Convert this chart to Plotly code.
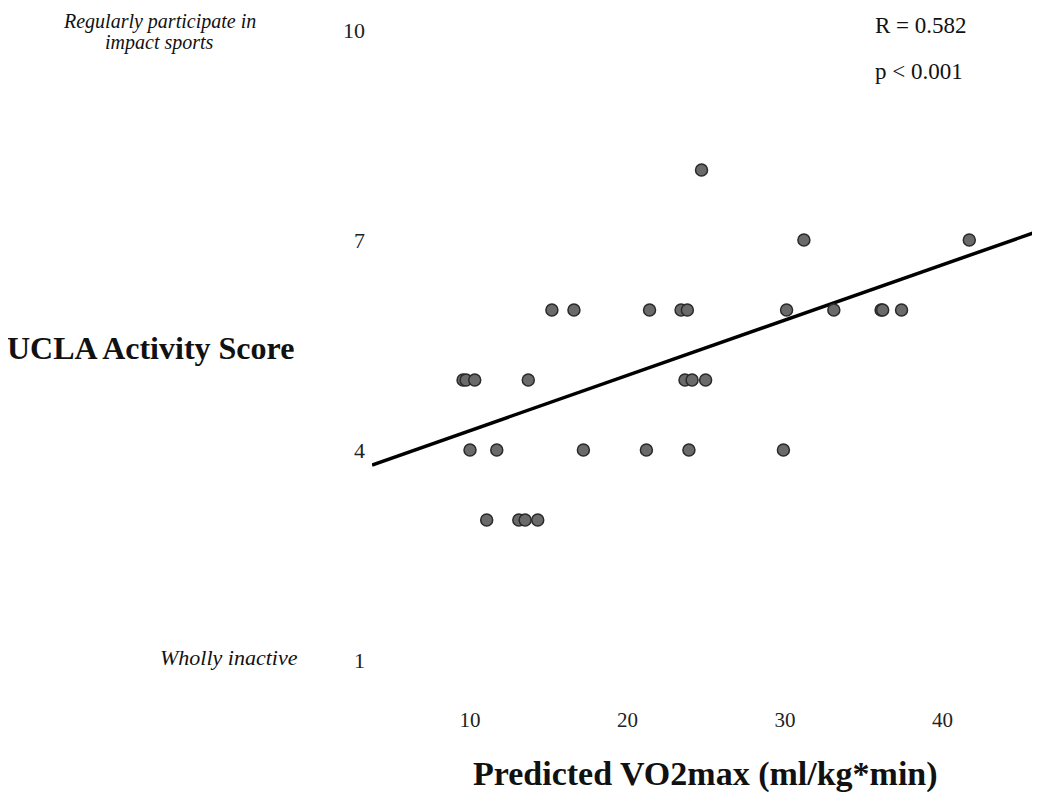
import plotly.graph_objects as go

# ---- data ----
vo2max = [11.06, 13.1, 13.5, 14.3,
          10.0, 11.7, 17.2, 21.2, 23.9, 29.9,
          9.56, 9.75, 10.3, 13.7, 23.65, 24.1, 24.96,
          15.2, 16.6, 21.4, 23.4, 23.8, 30.1, 33.1, 36.1, 36.2, 37.4,
          31.2, 41.7,
          24.7]
ucla = [3, 3, 3, 3,
        4, 4, 4, 4, 4, 4,
        5, 5, 5, 5, 5, 5, 5,
        6, 6, 6, 6, 6, 6, 6, 6, 6, 6,
        7, 7,
        8]
fit_x = [3.78, 45.75]
fit_y = [3.786, 7.10]
x_ticks = [10, 20, 30, 40]
y_ticks = [1, 4, 7, 10]
y_ticktext = ["1", "4", "7", "10"]

# page body has an 8px margin; the figure is sized and offset for it
OFF = 8
W, H = 1040 - OFF, 795 - OFF
L, R, T, B = 372 - OFF, 0, 0, 90
PW, PH = W - L - R, H - T - B


def px(x):
    return (x - OFF - L) / PW


def py(y):
    return 1 - (y - OFF - T) / PH


SERIF = "Liberation Serif"

fig = go.Figure()
fig.add_trace(go.Scatter(x=fit_x, y=fit_y, mode="lines",
                         line=dict(color="black", width=3.5),
                         hoverinfo="skip", showlegend=False))
fig.add_trace(go.Scatter(x=vo2max, y=ucla, mode="markers",
                         marker=dict(size=12, color="#6a6a6a",
                                     line=dict(color="#2a2a2a", width=1.5)),
                         showlegend=False))

x0 = (372 - 312.5) / 15.75
y_top = 10 + (30 - OFF) / 70

fig.update_layout(
    width=W, height=H,
    margin=dict(l=L, r=R, t=T, b=B, pad=0),
    paper_bgcolor="white", plot_bgcolor="white",
    font=dict(family=SERIF, color="#222222"),
    xaxis=dict(range=[x0, x0 + PW / 15.75], tickvals=x_ticks,
               showgrid=False, zeroline=False, showline=False,
               ticks="", tickfont=dict(size=21, family=SERIF, color="#222")),
    yaxis=dict(range=[y_top - PH / 70, y_top], tickvals=y_ticks,
               ticktext=y_ticktext, ticklabelstandoff=6,
               showgrid=False, zeroline=False, showline=False,
               ticks="", tickfont=dict(size=22, family=SERIF, color="#222")),
)

ann = [
    dict(text="<b>Predicted VO2max (ml/kg*min)</b>", x=px(705), y=py(774),
         font=dict(size=34, family=SERIF, color="#111")),
    dict(text="<b>UCLA Activity Score</b>", x=px(5), y=py(348), xanchor="left",
         font=dict(size=32, family=SERIF, color="#111")),
    dict(text="<i>Regularly participate in</i>", x=px(159), y=py(21),
         font=dict(size=20, family=SERIF, color="#111")),
    dict(text="<i>impact sports</i>", x=px(159), y=py(43),
         font=dict(size=20, family=SERIF, color="#111")),
    dict(text="<i>Wholly inactive</i>", x=px(229), y=py(657),
         font=dict(size=22, family=SERIF, color="#111")),
    dict(text="R = 0.582", x=px(873), y=py(25), xanchor="left",
         font=dict(size=23, family=SERIF, color="#111")),
    dict(text="p &lt; 0.001", x=px(873), y=py(72), xanchor="left",
         font=dict(size=23, family=SERIF, color="#111")),
]
for a in ann:
    a.setdefault("xanchor", "center")
    fig.add_annotation(xref="paper", yref="paper", showarrow=False,
                       yanchor="middle", **a)

fig.write_html("out.html")
